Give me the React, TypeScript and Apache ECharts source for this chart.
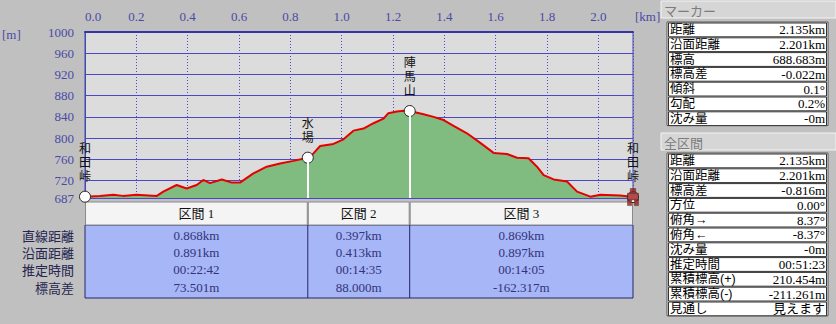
import React, { useEffect, useRef } from "react";
import * as echarts from "echarts";

// ---- profile data (km, m) ----
const distances = [0, 0.058, 0.11, 0.148, 0.2, 0.28, 0.305, 0.357, 0.396, 0.435, 0.461, 0.487, 0.533, 0.572, 0.604, 0.656, 0.708, 0.76, 0.812, 0.868, 0.89, 0.916, 0.968, 1.007, 1.046, 1.085, 1.124, 1.163, 1.182, 1.215, 1.241, 1.265, 1.319, 1.358, 1.397, 1.436, 1.488, 1.54, 1.592, 1.644, 1.683, 1.728, 1.761, 1.787, 1.826, 1.878, 1.917, 1.969, 2.008, 2.086, 2.135];
const elevations = [689.5, 691, 693, 691, 693, 691, 699, 711.5, 705, 711.5, 721, 715, 722, 716, 716, 733.5, 746, 752, 757, 763, 771, 785, 789, 797.7, 814, 818, 828, 836.5, 847, 850, 851.6, 851, 845, 840, 834, 823, 809, 791, 772, 770, 763, 762, 746, 730, 722, 718, 699, 689.5, 693, 691.5, 688.7];

// ---- waypoints ----
const waypointNames = ["和田峠", "水場", "陣馬山", "和田峠"];
const waypointDist = [0, 0.868, 1.265, 2.135];
const waypointElev = [689.5, 763, 851, 688.7];

// ---- axes ----
const xMax = 2.135;
const xInterval = 0.2;
const yMin = 687;
const yMax = 1000;
const yTicks = [687, 720, 760, 800, 840, 880, 920, 960, 1000];

// ---- section table ----
const sectionNames = ["区間 1", "区間 2", "区間 3"];
const rowLabels = ["直線距離", "沿面距離", "推定時間", "標高差"];
const straightDist = ["0.868km", "0.397km", "0.869km"];
const surfaceDist = ["0.891km", "0.413km", "0.897km"];
const estTime = ["00:22:42", "00:14:35", "00:14:05"];
const elevDiff = ["73.501m", "88.000m", "-162.317m"];

// ---- right panel ----
const markerTitle = "マーカー";
const markerLabels = ["距離", "沿面距離", "標高", "標高差", "傾斜", "勾配", "沈み量"];
const markerValues = ["2.135km", "2.201km", "688.683m", "-0.022m", "0.1°", "0.2%", "-0m"];
const totalTitle = "全区間";
const totalLabels = ["距離", "沿面距離", "標高差", "方位", "俯角→", "俯角←", "沈み量", "推定時間", "累積標高(+)", "累積標高(-)", "見通し"];
const totalValues = ["2.135km", "2.201km", "-0.816m", "0.00°", "8.37°", "-8.37°", "-0m", "00:51:23", "210.454m", "-211.261m", "見えます"];

const NUM_FONT = "'Liberation Serif', 'Noto Sans CJK JP', serif";
const JP_FONT = "'Noto Sans CJK JP', sans-serif";
const JP_TIGHT = "'Liberation Sans', 'Noto Sans CJK JP', sans-serif";
const AXIS_BLUE = "#4646b4";
const LABEL_BLUE = "#4a4aa6";

function txt(text: string, x: number, y: number, align: string, font: string, fill: string, size = 13, lh = 16) {
  return {
    type: "text",
    silent: true,
    style: {
      text,
      x,
      y,
      align,
      verticalAlign: "middle",
      textAlign: align,
      textVerticalAlign: "middle",
      fontSize: size,
      lineHeight: lh,
      fontFamily: font,
      fill,
    },
  };
}

export default function App() {
  const ref = useRef<HTMLDivElement>(null);

  useEffect(() => {
    document.body.style.margin = "0";
    const el = ref.current!;
    const chart = echarts.init(el, null, { renderer: "svg" });

    const profile = distances.map((d, i) => [d, elevations[i]]);
    const waypoints = waypointDist.map((d, i) => ({ value: [d, waypointElev[i]], name: waypointNames[i] }));
    const dividers = waypointDist.slice(1, -1).map((d, i) => [
      { coord: [d, waypointElev[i + 1]] },
      { coord: [d, yMin] },
    ]);

    chart.setOption({
      animation: false,
      backgroundColor: "#c0c0c0",
      grid: {
        left: 85,
        top: 32,
        width: 548,
        height: 166,
        show: true,
        backgroundColor: "#dcdcdc",
        borderColor: AXIS_BLUE,
        borderWidth: 1,
      },
      xAxis: {
        type: "value",
        position: "top",
        min: 0,
        max: xMax,
        interval: xInterval,
        axisLine: { show: true, lineStyle: { color: "#3434a8", width: 2 } },
        axisTick: { show: false },
        axisLabel: {
          color: LABEL_BLUE,
          fontSize: 13,
          fontFamily: NUM_FONT,
          margin: 9,
          showMaxLabel: false,
          alignMinLabel: "left",
          formatter: (v: number) => v.toFixed(1),
        },
        splitLine: { show: true, lineStyle: { color: "#4a4ad0", type: [1, 2], width: 1 } },
      },
      yAxis: {
        type: "value",
        min: yMin,
        max: yMax,
        axisLine: { show: true, lineStyle: { color: AXIS_BLUE, width: 1 } },
        axisTick: { show: false, customValues: yTicks },
        axisLabel: {
          color: LABEL_BLUE,
          fontSize: 13,
          fontFamily: NUM_FONT,
          margin: 11,
          customValues: yTicks,
          formatter: (v: number) => String(v),
        },
        splitLine: { show: true, lineStyle: { color: "#4848c8", width: 1 } },
      },
      series: [
        {
          type: "line",
          data: profile,
          showSymbol: false,
          symbol: "none",
          lineStyle: { color: "#e60000", width: 2 },
          areaStyle: { color: "#80bc80", opacity: 1 },
          z: 2,
        },
        {
          type: "scatter",
          data: waypoints,
          symbolSize: 11,
          itemStyle: { color: "#ffffff", borderColor: "#222222", borderWidth: 1, opacity: 1 },
          label: {
            show: true,
            position: "top",
            distance: 7,
            color: "#111111",
            fontSize: 12,
            lineHeight: 14,
            fontFamily: JP_TIGHT,
            formatter: (p: any) => String(p.name).split("").join("\n"),
          },
          markLine: {
            silent: true,
            symbol: ["none", "none"],
            label: { show: false },
            lineStyle: { color: "#ffffff", width: 2, type: "solid" },
            data: dividers,
          },
          z: 4,
        },
        {
          type: "scatter",
          data: [[waypointDist[3], waypointElev[3]]],
          symbol: "path://M4,0h4v4h-4z M2,4h8v6h-8z M2,10h3v5h-3z M7,10h3v5h-3z",
          symbolSize: [11, 17],
          itemStyle: { color: "#a01c1c", borderColor: "#3a2a1a", borderWidth: 0.5 },
          z: 5,
        },
      ],
    });

    const px = (d: number) => (chart.convertToPixel({ gridIndex: 0 }, [d, yMin]) as number[])[0];
    const bounds = waypointDist.map(px);
    const plotBottom = (chart.convertToPixel({ gridIndex: 0 }, [0, yMin]) as number[])[1];

    const g: any[] = [];
    // axis units
    g.push(txt("[m]", 2, 34, "left", NUM_FONT, LABEL_BLUE));
    g.push(txt("[km]", 635, 16, "left", NUM_FONT, LABEL_BLUE));

    // section table
    const headTop = plotBottom + 4;
    const headH = 23;
    const bodyTop = headTop + headH;
    const rowH = 17.4;
    const bodyH = 73;
    g.push({
      type: "rect",
      silent: true,
      shape: { x: bounds[0], y: bodyTop, width: bounds[3] - bounds[0], height: bodyH },
      style: { fill: "#a6b6f6", stroke: "#26266a", lineWidth: 1 },
    });
    const cols = [straightDist, surfaceDist, estTime, elevDiff];
    for (let i = 0; i < sectionNames.length; i++) {
      const x0 = bounds[i];
      const x1 = bounds[i + 1];
      g.push({
        type: "rect",
        silent: true,
        shape: { x: x0 + 0.5, y: headTop, width: x1 - x0 - 1, height: headH },
        style: { fill: "#f4f4f4", stroke: "#8a8a8a", lineWidth: 1 },
      });
      g.push(txt(sectionNames[i], (x0 + x1) / 2, headTop + headH / 2, "center", NUM_FONT, "#111111"));
      if (i > 0) {
        g.push({
          type: "line",
          silent: true,
          shape: { x1: x0, y1: bodyTop, x2: x0, y2: bodyTop + bodyH },
          style: { stroke: "#26266a", lineWidth: 1 },
        });
      }
      cols.forEach((col, r) => {
        g.push(txt(col[i], (x0 + x1) / 2, bodyTop + 10 + r * rowH, "center", NUM_FONT, "#33337a", 13, 16));
      });
    }
    rowLabels.forEach((lab, r) => {
      g.push(txt(lab, 74, bodyTop + 10 + r * rowH, "right", JP_FONT, "#252550", 13, 16));
    });

    // right panel
    const panelX = 661;
    const boxX = 667;
    const boxW = 161;
    const rh = 14.8;
    const header = (title: string, y: number) => {
      g.push({
        type: "rect",
        silent: true,
        shape: { x: panelX, y, width: 836 - panelX, height: 17 },
        style: { fill: "#d6d6d6", stroke: "#f4f4f4", lineWidth: 1 },
      });
      g.push(txt(title, panelX + 3, y + 9, "left", JP_FONT, "#7c7c7c", 13, 15));
    };
    const box = (labels: string[], values: string[], y: number) => {
      g.push({
        type: "rect",
        silent: true,
        shape: { x: boxX, y, width: boxW, height: labels.length * rh },
        style: { fill: "#ffffff", stroke: "#555555", lineWidth: 1 },
      });
      labels.forEach((lab, i) => {
        const ry = y + i * rh;
        g.push({
          type: "rect",
          silent: true,
          shape: { x: boxX + 1.5, y: ry + 1, width: boxW - 3, height: rh - 1 },
          style: { fill: "#ffffff", stroke: "#333333", lineWidth: 1 },
        });
        g.push(txt(lab, boxX + 3, ry + rh / 2 + 0.5, "left", JP_TIGHT, "#000000", 12.5, 13));
        g.push(txt(values[i], boxX + boxW - 3, ry + rh / 2 + 0.5, "right", NUM_FONT, "#000000", 13, 13));
      });
    };
    header(markerTitle, 1);
    box(markerLabels, markerValues, 22);
    header(totalTitle, 133);
    box(totalLabels, totalValues, 153);

    chart.setOption({ graphic: { elements: g } });

    return () => chart.dispose();
  }, []);

  return (
    <div
      ref={ref}
      style={{ position: "fixed", left: 0, top: 0, width: 836, height: 324 }}
    />
  );
}
